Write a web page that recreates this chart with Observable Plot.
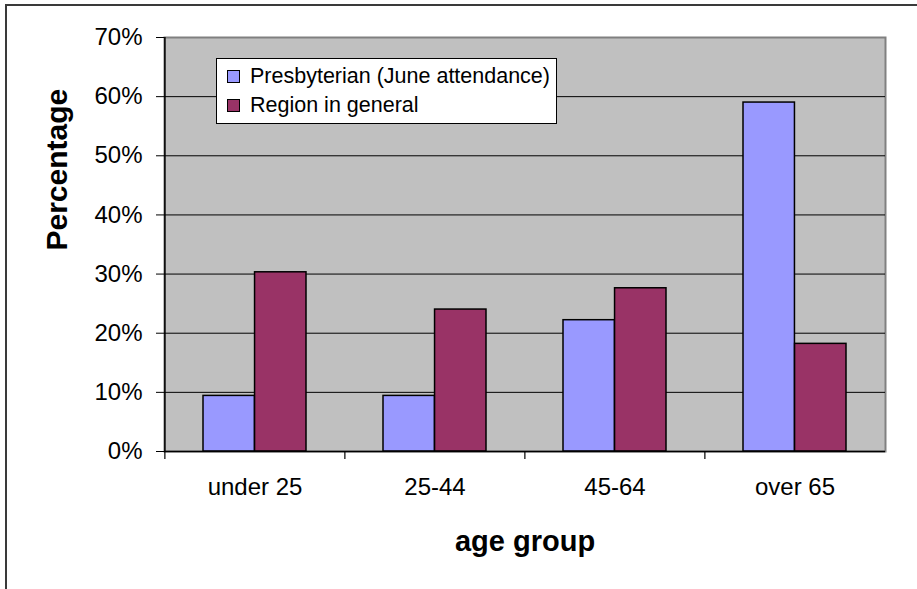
<!DOCTYPE html>
<html><head><meta charset="utf-8">
<script src="https://cdn.jsdelivr.net/npm/d3@7"></script>
<script src="https://cdn.jsdelivr.net/npm/@observablehq/plot@0.6"></script>
<style>
html,body{margin:0;padding:0;background:#fff;overflow:hidden;width:917px;height:589px;}
#wrap{position:relative;width:917px;height:589px;font-family:"Liberation Sans",Arial,sans-serif;overflow:hidden;}
#border{position:absolute;left:5px;top:4px;width:2000px;height:2000px;border-left:2px solid #3a3a3a;border-top:2px solid #3a3a3a;box-sizing:border-box;}
#chart{position:absolute;left:0;top:0;}
#legend{position:absolute;left:216px;top:58px;width:341px;height:66px;box-sizing:border-box;border:1px solid #000;background:#fff;font-size:21.5px;color:#000;}
.item{position:absolute;left:10px;height:22px;display:flex;align-items:center;white-space:nowrap;}
.sw{width:11px;height:11px;border:1px solid #000;margin-right:10px;flex:none;}
</style></head>
<body><div id="wrap"><div id="border"></div><div id="chart"></div><div id="legend"></div></div>
<script>
const categories = ["under 25", "25-44", "45-64", "over 65"];
const series = ["Presbyterian (June attendance)", "Region in general"];
const presbyterian = [9.4, 9.4, 22.2, 59.0];
const region = [30.3, 24.0, 27.6, 18.2];
const yTicks = [0, 10, 20, 30, 40, 50, 60, 70];
const colors = ["#9999ff", "#993366"];
const xTitle = "age group";
const yTitle = "Percentage";

const rows = categories.flatMap((c, i) => [
  {cat: c, series: series[0], value: presbyterian[i]},
  {cat: c, series: series[1], value: region[i]}
]);

const W = 917, H = 589, mL = 164, mR = 32, mT = 37, mB = 138;
const pIn = 0.428, pOut = 0.214;
const step = (W - mL - mR) / (categories.length - pIn + 2 * pOut);
const bw = step * (1 - pIn);
const font = '"Liberation Sans", Arial, sans-serif';

const plot = Plot.plot({
  width: W, height: H,
  marginLeft: mL, marginRight: mR, marginTop: mT, marginBottom: mB,
  style: {fontFamily: font, background: "transparent", color: "#000"},
  x: {type: "band", domain: categories, paddingInner: pIn, paddingOuter: pOut, label: null},
  y: {domain: [0, 70], label: null},
  color: {domain: series, range: colors},
  marks: [
    Plot.frame({fill: "#c0c0c0", stroke: "#808080", strokeWidth: 2}),
    Plot.ruleY(yTicks.filter(t => t > 0 && t < 70), {stroke: "#000", strokeWidth: 1}),
    Plot.barY(rows.filter(d => d.series === series[0]), {x: "cat", y: "value", fill: "series", stroke: "#000", strokeWidth: 1.5, insetRight: bw / 2}),
    Plot.barY(rows.filter(d => d.series === series[1]), {x: "cat", y: "value", fill: "series", stroke: "#000", strokeWidth: 1.5, insetLeft: bw / 2}),
    Plot.ruleY([0], {stroke: "#000", strokeWidth: 1.5}),
    Plot.ruleX([categories[0]], {x: d => d, dx: -step / 2, y1: 0, y2: 70, stroke: "#000", strokeWidth: 1.5}),
    Plot.ruleX(categories, {x: d => d, dx: -step / 2, y1: 0, y2: 0, insetBottom: -8, stroke: "#000", strokeWidth: 1.2}),
    Plot.axisY({ticks: yTicks, tickFormat: d => d + "%", tickSize: 8, tickPadding: 14, fontSize: 24, label: null, stroke: "#000"}),
    Plot.axisX({tickSize: 0, tickPadding: 26, fontSize: 24, label: null}),
    Plot.text([xTitle], {text: d => d, frameAnchor: "bottom", dy: 90, fontSize: 29, fontWeight: "bold", lineAnchor: "middle"}),
    Plot.text([yTitle], {text: d => d, frameAnchor: "left", rotate: -90, dx: -107, dy: 6, fontSize: 30, fontWeight: "bold", lineAnchor: "middle"})
  ]
});
document.getElementById("chart").appendChild(plot);

const legend = document.getElementById("legend");
series.forEach((s, i) => {
  const item = document.createElement("div");
  item.className = "item";
  item.style.top = (6 + i * 29.5) + "px";
  const sw = document.createElement("div");
  sw.className = "sw";
  sw.style.background = colors[i];
  const t = document.createElement("span");
  t.textContent = s;
  item.appendChild(sw);
  item.appendChild(t);
  legend.appendChild(item);
});
</script>
</body></html>
